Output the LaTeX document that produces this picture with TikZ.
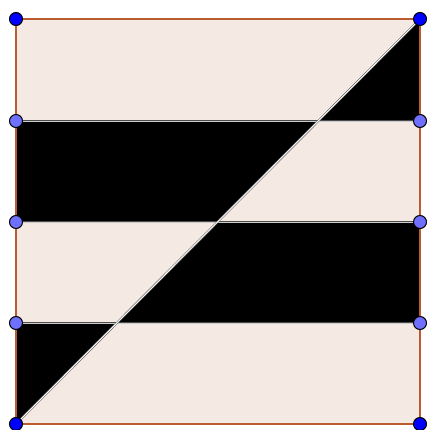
\documentclass[tikz,border=0pt]{standalone}
\usepackage{tikz}
\usetikzlibrary{calc}
\definecolor{sqfill}{RGB}{245,233,228}
\definecolor{sqedge}{RGB}{186,92,48}
\definecolor{ptdark}{RGB}{0,0,255}
\definecolor{ptlight}{RGB}{112,112,255}

\begin{document}
\begin{tikzpicture}[
  x=1pt, y=-1pt,
  band/.style={fill=black},
  rule/.style={draw=black!70, line width=0.9pt, double=black!20, double distance=0.8pt},
  diag/.style={draw=black!60, line width=0.6pt, double=white, double distance=0.9pt},
  border/.style={draw=sqedge, line width=1.8pt},
  pt/.style={circle, draw=black, line width=1pt, inner sep=0pt, minimum size=13pt},
  corner/.style={pt, fill=ptdark},
  mid/.style={pt, fill=ptlight}
]
  \useasboundingbox (0,0) rectangle (426,430);

  % Square corners
  \coordinate (tl) at (16,19);
  \coordinate (tr) at (420,19);
  \coordinate (bl) at (16,424);
  \coordinate (br) at (420,424);

  % Points on the sides
  \coordinate (l1) at (16,121);
  \coordinate (l2) at (16,222);
  \coordinate (l3) at (16,323);
  \coordinate (r1) at (420,121);
  \coordinate (r2) at (420,222);
  \coordinate (r3) at (420,323);

  % Where the diagonal crosses the rules
  \coordinate (d1) at ($(bl)!0.75!(tr)$);
  \coordinate (d2) at ($(bl)!0.5!(tr)$);
  \coordinate (d3) at ($(bl)!0.25!(tr)$);

  % Background
  \fill[sqfill] (tl) rectangle (br);

  % Black pieces
  \fill[band] (d1) -- (tr) -- (r1) -- cycle;
  \fill[band] (l1) -- (d1) -- (d2) -- (l2) -- cycle;
  \fill[band] (d2) -- (r2) -- (r3) -- (d3) -- cycle;
  \fill[band] (l3) -- (d3) -- (bl) -- cycle;

  % Rules and diagonal
  \draw[rule] (l1) -- (r1);
  \draw[rule] (l2) -- (r2);
  \draw[rule] (l3) -- (r3);
  \draw[diag] (bl) -- (tr);

  % Outline
  \draw[border] (tl) -- (tr) -- (br) -- (bl) -- cycle;

  % Points
  \node[corner] at (tl) {};
  \node[corner] at (tr) {};
  \node[corner] at (bl) {};
  \node[corner] at (br) {};
  \node[mid] at (l1) {};
  \node[mid] at (l2) {};
  \node[mid] at (l3) {};
  \node[mid] at (r1) {};
  \node[mid] at (r2) {};
  \node[mid] at (r3) {};
\end{tikzpicture}
\end{document}
